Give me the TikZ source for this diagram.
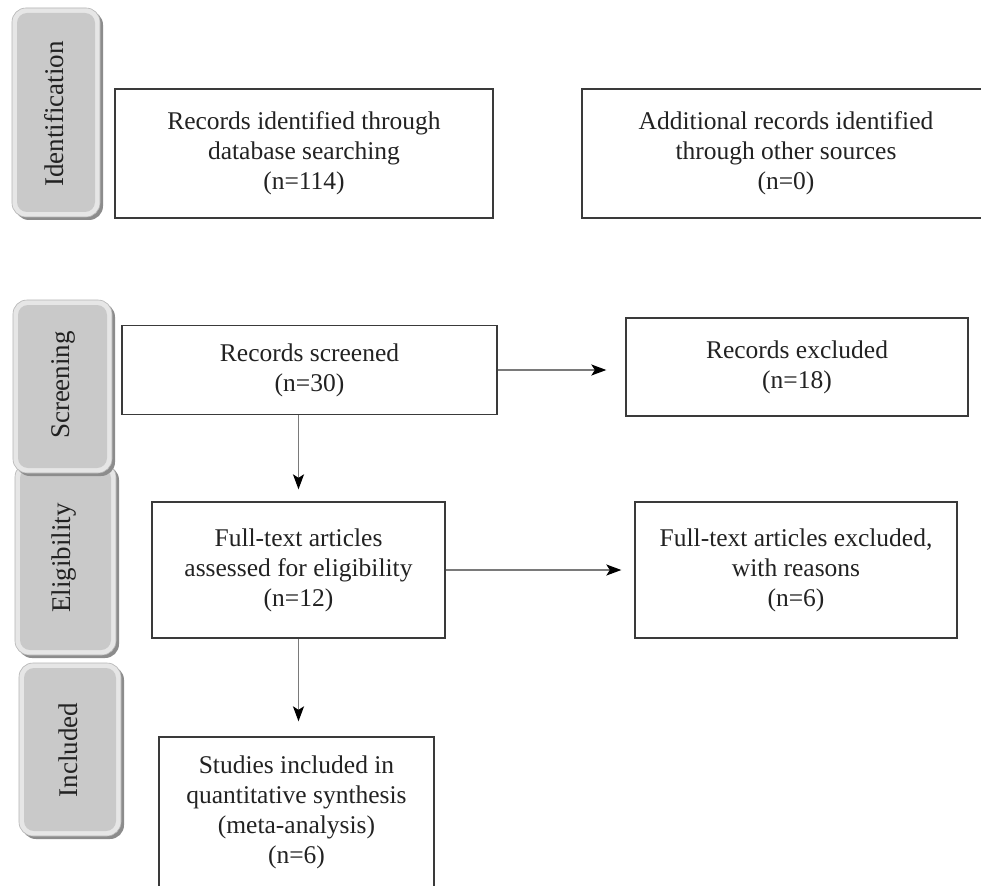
\documentclass[tikz,border=0pt]{standalone}
\usepackage{fontspec}
\setmainfont{Liberation Serif}
\usetikzlibrary{arrows.meta}
\definecolor{tabfill}{HTML}{C9C9C9}
\definecolor{tabrim}{HTML}{E6E6E6}
\definecolor{tabedge}{HTML}{B4B4B4}
\definecolor{tabshadow}{HTML}{8C8C8C}
\definecolor{boxline}{HTML}{3A3A3A}
\definecolor{arrowline}{HTML}{7A7A7A}
\definecolor{txt}{HTML}{222222}
\tikzset{
  flowbox/.style={draw=boxline, line width=1.3pt, fill=white, align=center,
    inner sep=0pt, font=\fontsize{25.5}{30}\selectfont, text=txt},
  flowarrow/.style={draw=arrowline, line width=1.8pt,
    -{Stealth[length=15pt,width=11pt,inset=3.5pt,color=black]}},
  tabtext/.style={rotate=90, font=\fontsize{27}{32}\selectfont, text=txt},
}
\newcommand\sidetab[8]{%
  \fill[tabshadow, rounded corners=14pt] (#1+3,#2+3) rectangle (#3+3,#4+3);
  \filldraw[fill=tabrim, draw=tabedge, line width=0.6pt, rounded corners=14pt] (#1,#2) rectangle (#3,#4);
  \fill[tabfill, rounded corners=10pt] (#1+5,#2+5) rectangle (#3-5,#4-5);
  \node[tabtext] (#5) at (#7,#8) {#6};
}
\begin{document}
\begin{tikzpicture}[x=1pt,y=-1pt]
\useasboundingbox (0,0) rectangle (981,885);
\fill[white] (0,0) rectangle (981,885);

% side tabs
\sidetab{12}{8}{100}{217}{tid}{Identification}{54}{114}
\sidetab{15}{463}{116}{655}{tel}{Eligibility}{64}{558}
\sidetab{13}{300}{112}{473}{tsc}{Screening}{63}{385}
\sidetab{19}{663}{121}{836}{tin}{Included}{68}{750}

% boxes
\node[flowbox, minimum width=378pt, minimum height=129pt] (b1) at (304,153.5)
  {Records identified through\\database searching\\(n=114)};
\node[flowbox, minimum width=408pt, minimum height=129pt] (b2) at (786,153.5)
  {Additional records identified\\through other sources\\(n=0)};
\node[flowbox, minimum width=375pt, minimum height=89pt] (b3) at (309.5,370)
  {Records screened\\(n=30)};
\node[flowbox, minimum width=342pt, minimum height=98pt] (b4) at (797,367)
  {Records excluded\\(n=18)};
\node[flowbox, minimum width=293pt, minimum height=136pt] (b5) at (298.5,570)
  {Full-text articles\\assessed for eligibility\\(n=12)};
\node[flowbox, minimum width=322pt, minimum height=136pt] (b6) at (796,570)
  {Full-text articles excluded,\\with reasons\\(n=6)};
\node[flowbox, minimum width=275pt, minimum height=150pt] (b7) at (296.5,812)
  {Studies included in\\quantitative synthesis\\(meta-analysis)\\(n=6)};

% connectors
\draw[flowarrow, shorten >=19pt] (b3.east) -- (b4.west |- b3.east);
\draw[flowarrow, shorten >=13pt] (b5.east) -- (b6.west);
\draw[flowarrow, shorten >=12pt] (b3.south -| b5.north) -- (b5.north);
\draw[flowarrow, shorten >=15pt] (b5.south) -- (b5.south |- b7.north);
\end{tikzpicture}
\end{document}
